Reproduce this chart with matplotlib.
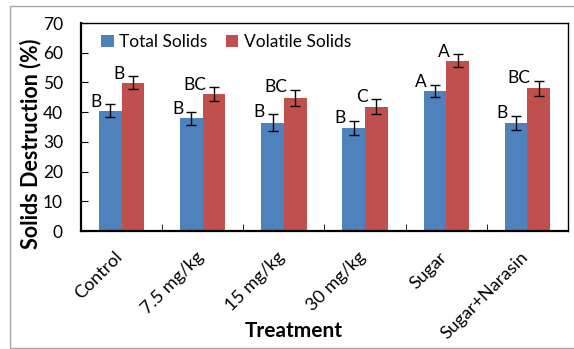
import matplotlib
matplotlib.use("Agg")
import matplotlib.pyplot as plt
import numpy as np
from matplotlib.patches import Rectangle
from matplotlib.transforms import ScaledTranslation

categories = ["Control", "7.5 mg/kg", "15 mg/kg", "30 mg/kg", "Sugar", "Sugar+Narasin"]
total_solids = [40.4, 37.9, 36.5, 34.7, 47.2, 36.4]
total_err = [2.2, 2.3, 2.8, 2.4, 2.1, 2.4]
volatile_solids = [49.9, 46.2, 44.8, 41.8, 57.3, 48.1]
volatile_err = [2.2, 2.3, 2.8, 2.5, 2.2, 2.5]
ts_letters = ["B", "B", "B", "B", "A", "B"]
vs_letters = ["B", "BC", "BC", "C", "A", "BC"]

plt.rcParams['font.family'] = ['Lato', 'DejaVu Sans']

fig = plt.figure(figsize=(5.74, 3.49), dpi=100)
fig.patches.append(Rectangle((10/574, 1 - 347.5/349), 1.2, (347.5 - 5.5)/349,
                             transform=fig.transFigure, fill=False,
                             edgecolor="#A6A6A6", linewidth=1.0))
ax = fig.add_axes([81/574, 1 - 231/349, (568 - 81)/574, (231 - 23)/349])

x = np.arange(len(categories))
w = 0.28
blue = "#4F81BD"
red = "#C0504D"
ekw = dict(ecolor="black", elinewidth=1.0, capsize=3.5, capthick=1.0)
ax.bar(x - w/2, total_solids, w, color=blue, label="Total Solids",
       yerr=total_err, error_kw=ekw)
ax.bar(x + w/2, volatile_solids, w, color=red, label="Volatile Solids",
       yerr=volatile_err, error_kw=ekw)

for i in range(len(categories)):
    ax.text(x[i] - w/2 - 0.1, total_solids[i] + total_err[i] - 0.9, ts_letters[i],
            ha="right", va="baseline", fontsize=12.5)
    ax.text(x[i] + w/2 - 0.1, volatile_solids[i] + volatile_err[i] - 0.9, vs_letters[i],
            ha="right", va="baseline", fontsize=12.5)

ax.set_xlim(-0.5, len(categories) - 0.5)
ax.set_ylim(0, 70)
ax.set_yticks(range(0, 71, 10))
ax.tick_params(axis="y", direction="in", length=5, labelsize=12.5, pad=13)
ax.set_xticks(np.arange(len(categories) + 1) - 0.5, minor=True)
ax.set_xticks(x)
ax.set_xticklabels(categories, rotation=45, ha="right", va="top",
                   rotation_mode="default", fontsize=13)
ax.tick_params(axis="x", which="major", length=0, pad=13)
ax.tick_params(axis="x", which="minor", direction="in", length=5)
for s in ax.spines.values():
    s.set_linewidth(1.0)
ax.spines["left"].set_linewidth(1.6)
ax.spines["bottom"].set_linewidth(1.6)

off = ScaledTranslation(4/100, 0, fig.dpi_scale_trans)
for lbl in ax.get_xticklabels():
    lbl.set_transform(lbl.get_transform() + off)

leg = ax.legend(loc="upper left", ncol=2, frameon=False, fontsize=12.5,
                handlelength=0.7, handleheight=0.7, handletextpad=0.3, columnspacing=1.1,
                bbox_to_anchor=(0.01, 1.02))

fig.text(31/574, 1 - 143.5/349, "Solids Destruction (%)", rotation=90, ha="center", va="center",
         fontsize=15.5, fontweight="bold")
fig.text(294/574, 1 - 331/349, "Treatment", ha="center", va="center", fontsize=15, fontweight="bold")

fig.savefig("out.png", dpi=100)
